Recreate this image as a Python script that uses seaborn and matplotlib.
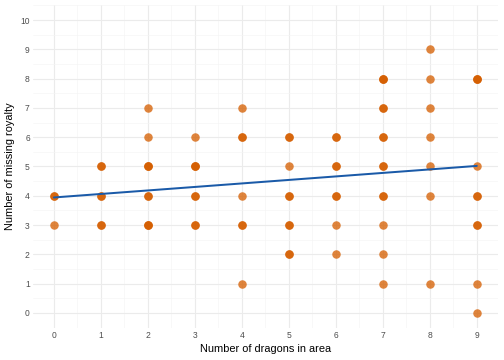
import matplotlib
matplotlib.use("Agg")
import matplotlib.pyplot as plt
import seaborn as sns
import numpy as np
from matplotlib.ticker import MultipleLocator

# dragons per area and missing royalty (repeated rows = overlapping points)
dragons = [0, 0, 0,
           1, 1, 1, 1, 1, 1,
           2, 2, 2, 2, 2, 2, 2, 2, 2, 2,
           3, 3, 3, 3, 3, 3, 3, 3,
           4, 4, 4, 4, 4, 4, 4,
           5, 5, 5, 5, 5, 5, 5, 5, 5,
           6, 6, 6, 6, 6, 6, 6, 6,
           7, 7, 7, 7, 7, 7, 7, 7, 7, 7, 7, 7, 7, 7,
           8, 8, 8, 8, 8, 8, 8,
           9, 9, 9, 9, 9, 9, 9, 9, 9, 9]
royalty = [4, 4, 3,
           5, 5, 4, 4, 3, 3,
           7, 6, 5, 5, 5, 4, 4, 3, 3, 3,
           6, 5, 5, 5, 4, 4, 3, 3,
           7, 6, 6, 4, 3, 3, 1,
           6, 6, 5, 4, 4, 3, 3, 2, 2,
           6, 6, 5, 5, 4, 4, 3, 2,
           8, 8, 8, 7, 7, 6, 6, 5, 5, 4, 4, 3, 2, 1,
           9, 8, 7, 6, 5, 4, 1,
           8, 8, 8, 5, 4, 4, 3, 3, 1, 0]

x_ticks = list(range(0, 10))
y_ticks = list(range(0, 11))

sns.set_theme(style="whitegrid")
plt.rcParams['font.family'] = ['Liberation Sans', 'DejaVu Sans']

fig, ax = plt.subplots(figsize=(7, 5), dpi=72)
fig.subplots_adjust(left=0.065, right=0.988, top=0.985, bottom=0.09)

sns.regplot(x=dragons, y=royalty, ci=None, ax=ax,
            scatter_kws=dict(color="#D55E00", alpha=0.76, s=72, linewidths=0),
            line_kws=dict(color="#1a5aa8", linewidth=2))

ax.set_xlim(-0.45, 9.45)
ax.set_ylim(-0.5, 10.5)
ax.set_xticks(x_ticks)
ax.set_yticks(y_ticks)
ax.xaxis.set_minor_locator(MultipleLocator(0.5))
ax.yaxis.set_minor_locator(MultipleLocator(0.5))
ax.grid(which="major", color="#EBEBEB", linewidth=1.1)
ax.grid(which="minor", color="#F4F4F4", linewidth=0.6)
ax.set_axisbelow(True)
for s in ax.spines.values():
    s.set_visible(False)
ax.tick_params(which="both", length=0, labelsize=8.5, labelcolor="#4D4D4D", pad=3)

ax.set_xlabel("Number of dragons in area", fontsize=11, color="black", labelpad=4)
ax.set_ylabel("Number of missing royalty", fontsize=11, color="black", labelpad=5)

fig.savefig("out.png", dpi=72)
